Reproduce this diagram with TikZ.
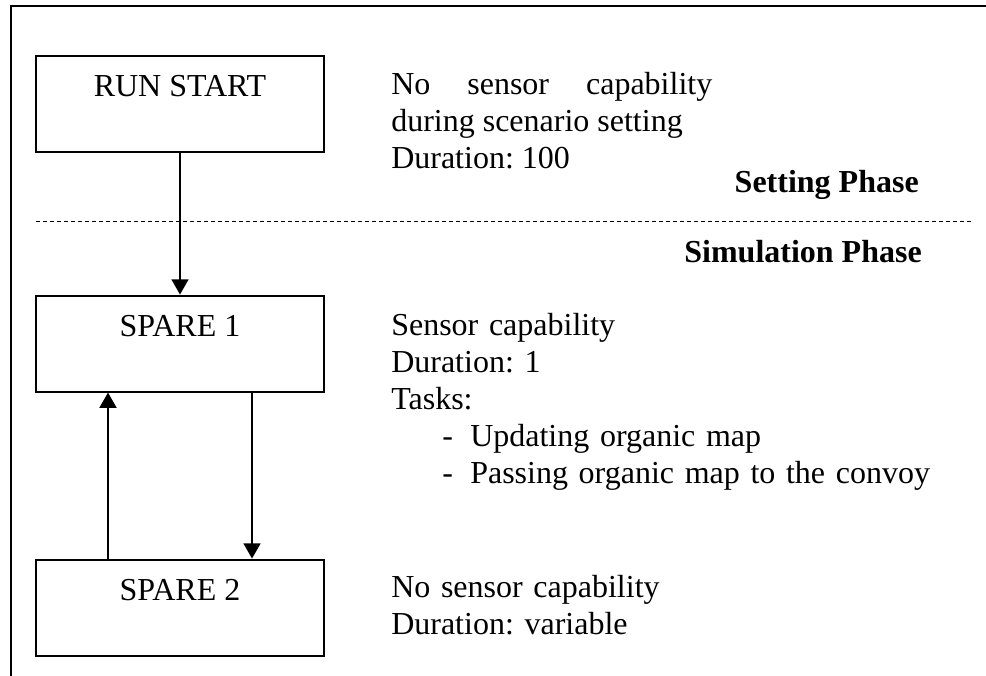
\documentclass[tikz,border=0pt]{standalone}
\usepackage{fontspec}
\setmainfont{Liberation Serif}
\usetikzlibrary{arrows.meta,positioning}
\hyphenpenalty=10000
\frenchspacing

\begin{document}
\begin{tikzpicture}[
    font=\fontsize{22.76pt}{26.3pt}\selectfont,
    phasebox/.style={draw, line width=1.4pt, inner sep=0pt, minimum width=7.2cm,
        minimum height=2.4cm, text height=1.025cm, text depth=1.375cm},
    flow/.style={line width=1.4pt, -{Triangle[length=0.38cm, width=0.42cm]}},
    notes/.style={anchor=base west, inner sep=0pt, text width=14cm, align=left},
    phasetitle/.style={anchor=base east, inner sep=0pt, font=\fontsize{22.76pt}{26.3pt}\selectfont\bfseries}
]
\useasboundingbox (0,0) rectangle (24.65,16.9);

% Frame
\draw[line width=1.4pt] (0.275,0) -- (0.275,16.74) -- (24.65,16.74);

% Boxes
\node[phasebox] (runstart) at (4.5,14.3) {RUN START};
\node[phasebox] (spare1) at (4.5,8.31) {SPARE 1};
\node[phasebox] (spare2) at (4.5,1.71) {SPARE 2};

% Phase border
\draw[line width=0.7pt, dash pattern=on 0.1cm off 0.075cm] (0.9,11.35) -- (24.33,11.35);
\node[phasetitle] (setting) at (22.975,12.075) {Setting Phase};
\node[phasetitle] (simulation) at (23.05,10.325) {Simulation Phase};

% Arrows
\draw[flow] (runstart) -- (spare1);
\draw[flow] ([xshift=1.8cm]spare1.south) -- ([xshift=1.8cm]spare2.north);
\draw[flow] ([xshift=-1.8cm]spare2.north) -- ([xshift=-1.8cm]spare1.south);

% Descriptions
\node[notes, text width=8.025cm, align=justify] (runnote) at (9.775,14.525)
    {No sensor capability during scenario setting\\Duration: 100};
\node[notes] (spare1note) at (9.775,8.5)
    {Sensor capability\\Duration: 1\\Tasks:\\
     \hspace*{1.275cm}\makebox[0.7cm][l]{-}Updating organic map\\
     \hspace*{1.275cm}\makebox[0.7cm][l]{-}Passing organic map to the convoy};
\node[notes] (spare2note) at (9.775,1.95)
    {No sensor capability\\Duration: variable};
\end{tikzpicture}
\end{document}
